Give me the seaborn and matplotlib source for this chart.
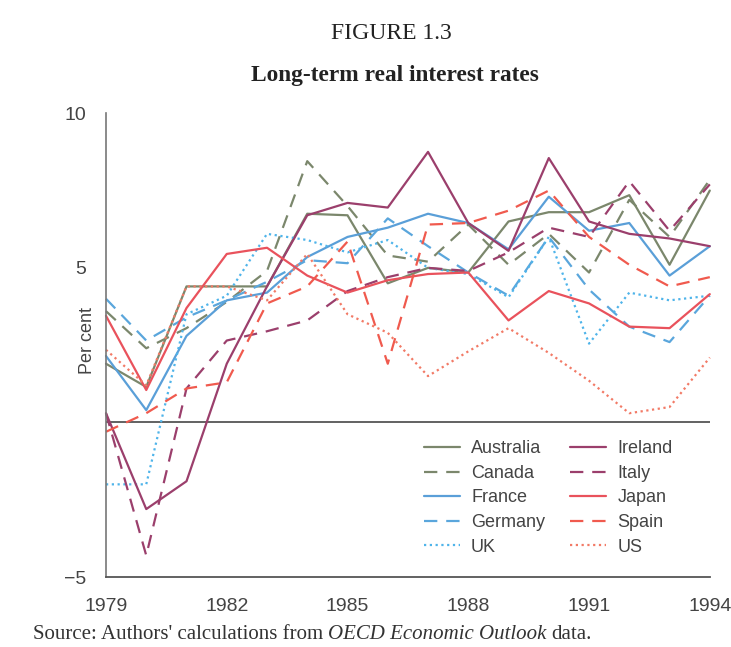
#!/usr/bin/env python3
"""
Long-term real interest rates, 1979-1994 (Figure 1.3 recreation)
"""

import matplotlib
matplotlib.use("Agg")
import matplotlib.pyplot as plt
import seaborn as sns

# Data (per cent)
years = list(range(1979, 1995))

australia = [1.9, 1.15, 4.4, 4.4, 4.4, 6.75, 6.7, 4.5, 5.0, 4.85, 6.5, 6.8, 6.8, 7.35, 5.1, 7.5]
canada = [3.6, 2.4, 3.05, 3.9, 4.9, 8.45, 7.0, 5.4, 5.2, 6.4, 5.1, 6.1, 4.85, 7.2, 6.0, 7.85]
france = [2.15, 0.4, 2.8, 3.95, 4.2, 5.35, 6.0, 6.3, 6.75, 6.45, 5.6, 7.3, 6.2, 6.45, 4.75, 5.7]
germany = [4.0, 2.65, 3.4, 3.95, 4.55, 5.25, 5.15, 6.6, 5.7, 4.85, 4.1, 6.0, 4.3, 3.1, 2.6, 4.1]
uk = [-2.0, -2.0, 3.5, 4.1, 6.1, 5.9, 5.5, 5.9, 5.0, 4.8, 4.05, 6.0, 2.55, 4.2, 3.95, 4.1]
ireland = [0.3, -2.8, -1.9, 1.9, 4.4, 6.7, 7.1, 6.95, 8.75, 6.45, 5.55, 8.55, 6.5, 6.1, 5.95, 5.7]
italy = [0.3, -4.3, 1.1, 2.65, 2.95, 3.3, 4.25, 4.7, 5.0, 4.9, 5.5, 6.3, 6.0, 7.8, 6.2, 7.7]
japan = [3.45, 1.05, 3.7, 5.45, 5.65, 4.75, 4.2, 4.6, 4.8, 4.85, 3.3, 4.25, 3.85, 3.1, 3.05, 4.15]
spain = [-0.3, 0.3, 1.1, 1.3, 3.85, 4.4, 5.85, 1.9, 6.4, 6.45, 6.85, 7.5, 6.0, 5.1, 4.4, 4.7]
us = [2.35, 1.2, 4.4, 4.4, 3.95, 5.45, 3.5, 2.9, 1.5, 2.3, 3.05, 2.25, 1.35, 0.3, 0.5, 2.1]

names = ["Australia", "Canada", "France", "Germany", "UK",
         "Ireland", "Italy", "Japan", "Spain", "US"]
series = [australia, canada, france, germany, uk,
          ireland, italy, japan, spain, us]
colors = ["#7b876c", "#7b876c", "#5a9fd8", "#5aa6dc", "#4fb4ea",
          "#9b3f6c", "#9b3f6c", "#e9525c", "#f05a4e", "#f27a66"]
styles = ["-", (0, (6, 4)), "-", (0, (6, 4)), (0, (1, 1.6)),
          "-", (0, (6, 4)), "-", (0, (6, 4)), (0, (1, 1.6))]

sns.set_style("white")
plt.rcParams["font.family"] = ["Liberation Sans", "DejaVu Sans"]

fig = plt.figure(figsize=(7.31, 6.47), dpi=100)
ax = fig.add_axes([0.145, 0.108, 0.826, 0.717])

# zero line
ax.axhline(0, color="#555555", lw=1.3, zorder=1)

for name, vals, col, ls in zip(names, series, colors, styles):
    sns.lineplot(x=years, y=vals, ax=ax, color=col, linestyle=ls,
                 linewidth=1.6, label=name, clip_on=False)

ax.set_xlim(1979, 1994)
ax.set_ylim(-5, 10)
ax.set_xticks(range(1979, 1995, 3))
ax.set_yticks([-5, 5, 10])
ax.set_yticklabels(["\u22125", "5", "10"])

for side in ["top", "right"]:
    ax.spines[side].set_visible(False)
ax.spines["left"].set_color("#777777")
ax.spines["bottom"].set_color("#555555")
ax.spines["left"].set_linewidth(1.2)
ax.spines["bottom"].set_linewidth(1.3)

ax.tick_params(axis="x", direction="in", length=10, width=1.2,
               color="#555555", labelcolor="#444444", labelsize=14, pad=15)
ax.tick_params(axis="y", direction="out", length=10, width=1.2,
               color="#777777", labelcolor="#444444", labelsize=14, pad=4)
ax.set_xlabel("")
ax.set_ylabel("Per cent", color="#444444", fontsize=13, labelpad=8)
ax.yaxis.set_label_coords(-0.016, 0.51)

leg = ax.legend(loc="upper left", bbox_to_anchor=(0.5, 0.33), ncol=2,
                frameon=False, fontsize=13, handlelength=2.0,
                handletextpad=0.6, columnspacing=1.4, labelspacing=0.42)
for t in leg.get_texts():
    t.set_color("#444444")

serif = ["Liberation Serif", "DejaVu Serif"]
fig.text(0.535, 0.948, "FIGURE 1.3", ha="center", va="center",
         fontsize=17, family=serif, color="#222222")
fig.text(0.54, 0.883, "Long-term real interest rates", ha="center",
         va="center", fontsize=16.8, fontweight="bold", family=serif,
         color="#222222")

# source line with italic title part
src1 = fig.text(0.045, 0.012, "Source: Authors' calculations from ",
                fontsize=15, family=serif, color="#333333")
fig.canvas.draw()
r = fig.canvas.get_renderer()
bb = src1.get_window_extent(r)
src2 = fig.text(bb.x1 / fig.bbox.width, 0.012, "OECD Economic Outlook",
                fontsize=15, family=serif, style="italic", color="#333333")
bb2 = src2.get_window_extent(r)
fig.text(bb2.x1 / fig.bbox.width + 0.006, 0.012, "data.",
         fontsize=15, family=serif, color="#333333")

fig.savefig("out.png", dpi=100)
plt.close(fig)
